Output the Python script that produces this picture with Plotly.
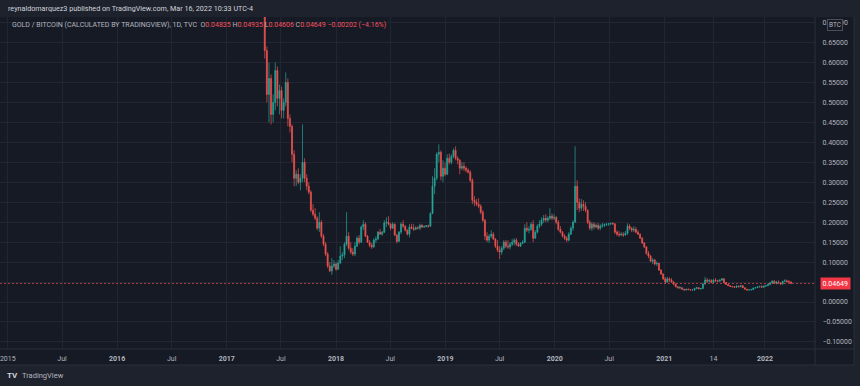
import plotly.graph_objects as go
import pandas as pd

# ---------------- data (GOLD / BITCOIN ratio, weekly candles) ----------------
START_WEEK = "2017-05-08"

open_ = [
    .790, .630, .520, .560, .470, .500, .580, .510, .530, .480,
    .500, .550, .460, .440, .370, .310, .320, .300, .310, .350,
    .310, .290, .275, .230, .220, .210, .185, .200, .165, .145,
    .120, .090, .078, .090, .095, .082, .098, .115, .118, .145,
    .165, .135, .125, .120, .140, .160, .150, .188, .195, .165,
    .150, .142, .138, .155, .158, .175, .170, .175, .198, .200,
    .195, .185, .195, .168, .152, .175, .195, .190, .180, .170,
    .188, .185, .182, .186, .185, .192, .188, .189, .191, .190,
    .222, .290, .310, .370, .375, .315, .335, .320, .360, .350,
    .365, .380, .360, .355, .335, .340, .335, .330, .325, .305,
    .255, .250, .245, .240, .225, .205, .165, .155, .165, .170,
    .158, .140, .130, .125, .135, .150, .140, .138, .145, .150,
    .155, .145, .140, .147, .150, .185, .180, .182, .195, .160,
    .175, .190, .195, .205, .210, .205, .210, .215, .210, .212,
    .200, .182, .175, .165, .160, .155, .170, .185, .200, .290,
    .250, .235, .245, .240, .230, .200, .185, .195, .188, .192,
    .185, .190, .192, .194, .195, .196, .197, .196, .175, .170,
    .168, .170, .168, .172, .190, .185, .180, .182, .175, .170,
    .160, .148, .138, .122, .115, .102, .105, .095, .097, .080,
    .070, .058, .050, .058, .055, .050, .045, .038, .035, .036,
    .032, .030, .032, .031, .030, .0305, .034, .036, .033, .034,
    .045, .055, .052, .054, .049, .055, .053, .052, .055, .058,
    .049, .044, .041, .039, .038, .037, .040, .038, .041, .036,
    .032, .030, .0305, .031, .035, .036, .038, .039, .037, .040,
    .041, .044, .048, .052, .047, .050, .048, .045, .052, .053,
    .051, .050,
]
high = [
    .800, .640, .600, .570, .520, .600, .590, .545, .540, .510,
    .575, .560, .470, .445, .380, .330, .335, .320, .445, .360,
    .320, .300, .280, .245, .235, .215, .225, .205, .170, .150,
    .125, .100, .110, .105, .100, .105, .140, .125, .150, .225,
    .175, .150, .135, .150, .165, .168, .192, .205, .200, .168,
    .155, .148, .160, .165, .178, .183, .178, .205, .212, .215,
    .198, .200, .197, .170, .178, .200, .205, .192, .182, .195,
    .196, .195, .190, .190, .196, .195, .192, .193, .194, .225,
    .315, .335, .375, .395, .380, .355, .350, .370, .372, .370,
    .385, .390, .365, .358, .350, .350, .340, .335, .330, .310,
    .265, .258, .260, .245, .230, .208, .175, .170, .180, .175,
    .160, .155, .140, .140, .155, .155, .155, .150, .158, .160,
    .160, .150, .150, .155, .195, .200, .190, .200, .205, .180,
    .195, .205, .212, .218, .220, .215, .235, .222, .220, .215,
    .205, .190, .178, .170, .165, .175, .190, .205, .390, .305,
    .260, .258, .255, .250, .232, .205, .200, .200, .197, .198,
    .195, .198, .197, .198, .198, .199, .200, .197, .180, .178,
    .175, .175, .178, .197, .195, .188, .190, .188, .180, .172,
    .163, .150, .140, .128, .118, .110, .108, .102, .098, .082,
    .072, .063, .063, .062, .060, .052, .046, .040, .040, .037,
    .033, .033, .034, .032, .031, .036, .038, .037, .035, .048,
    .063, .060, .058, .057, .058, .060, .056, .057, .060, .060,
    .050, .045, .042, .040, .040, .042, .041, .042, .042, .036,
    .033, .031, .033, .036, .038, .040, .041, .042, .041, .043,
    .046, .050, .055, .055, .053, .054, .049, .053, .057, .056,
    .055, .052,
]
low = [
    .610, .500, .450, .445, .450, .480, .490, .470, .460, .460,
    .490, .440, .425, .350, .290, .290, .295, .280, .300, .300,
    .280, .270, .225, .215, .205, .180, .175, .160, .140, .115,
    .085, .075, .068, .085, .078, .080, .095, .105, .110, .140,
    .130, .120, .115, .115, .138, .145, .148, .180, .163, .148,
    .137, .133, .136, .148, .155, .168, .166, .173, .188, .192,
    .180, .183, .165, .147, .150, .170, .185, .177, .167, .162,
    .182, .178, .180, .182, .180, .185, .186, .187, .186, .188,
    .220, .270, .305, .350, .305, .300, .315, .318, .345, .345,
    .360, .355, .345, .320, .330, .328, .325, .322, .300, .245,
    .240, .240, .235, .220, .200, .155, .150, .148, .160, .155,
    .135, .125, .108, .118, .130, .135, .133, .132, .140, .142,
    .140, .138, .138, .145, .148, .175, .172, .178, .150, .158,
    .172, .185, .190, .198, .200, .200, .205, .205, .205, .195,
    .178, .172, .162, .155, .150, .152, .168, .178, .198, .230,
    .225, .228, .228, .225, .195, .180, .178, .182, .185, .180,
    .180, .186, .188, .190, .191, .192, .193, .170, .165, .163,
    .165, .163, .166, .168, .180, .175, .175, .172, .168, .158,
    .145, .135, .118, .110, .100, .095, .092, .090, .078, .068,
    .055, .045, .048, .050, .048, .042, .037, .034, .033, .031,
    .029, .029, .030, .029, .029, .028, .032, .032, .031, .033,
    .043, .048, .049, .047, .048, .051, .050, .051, .053, .047,
    .043, .040, .038, .037, .036, .035, .037, .037, .035, .031,
    .029, .029, .029, .031, .034, .035, .036, .036, .036, .038,
    .040, .042, .046, .045, .044, .046, .043, .044, .050, .049,
    .048, .0461,
]
close = [
    .630, .520, .560, .470, .500, .580, .510, .530, .480, .500,
    .550, .460, .440, .370, .310, .320, .300, .310, .350, .310,
    .290, .275, .230, .220, .210, .185, .200, .165, .145, .120,
    .090, .078, .090, .095, .082, .098, .115, .118, .145, .165,
    .135, .125, .120, .140, .160, .150, .188, .195, .165, .150,
    .142, .138, .155, .158, .175, .170, .175, .198, .200, .195,
    .185, .195, .168, .152, .175, .195, .190, .180, .170, .188,
    .185, .182, .186, .185, .192, .188, .189, .191, .190, .222,
    .290, .310, .370, .375, .315, .335, .320, .360, .350, .365,
    .380, .360, .355, .335, .340, .335, .330, .325, .305, .255,
    .250, .245, .240, .225, .205, .165, .155, .165, .170, .158,
    .140, .130, .125, .135, .150, .140, .138, .145, .150, .155,
    .145, .140, .147, .150, .185, .180, .182, .195, .160, .175,
    .190, .195, .205, .210, .205, .210, .215, .210, .212, .200,
    .182, .175, .165, .160, .155, .170, .185, .200, .290, .250,
    .235, .245, .240, .230, .200, .185, .195, .188, .192, .185,
    .190, .192, .194, .195, .196, .197, .196, .175, .170, .168,
    .170, .168, .172, .190, .185, .180, .182, .175, .170, .160,
    .148, .138, .122, .115, .102, .105, .095, .097, .080, .070,
    .058, .050, .058, .055, .050, .045, .038, .035, .036, .032,
    .030, .032, .031, .030, .0305, .034, .036, .033, .034, .045,
    .055, .052, .054, .049, .055, .053, .052, .055, .058, .049,
    .044, .041, .039, .038, .037, .040, .038, .041, .036, .032,
    .030, .0305, .031, .035, .036, .038, .039, .037, .040, .041,
    .044, .048, .052, .047, .050, .048, .045, .052, .053, .051,
    .050, .04649,
]

# last daily bar shown in the legend line
LAST_O, LAST_H, LAST_L, LAST_C = 0.04835, 0.04935, 0.04606, 0.04649
CHANGE, CHANGE_PCT = -0.00202, -4.16

# time-axis labels (placed where the reference shows them)
tick_dates = ["2015-01-01", "2015-07-01", "2016-01-01", "2016-07-01", "2017-01-01",
              "2017-07-01", "2018-01-01", "2018-07-01", "2019-01-01", "2019-07-01",
              "2020-01-01", "2020-07-01", "2021-01-01", "2021-06-14", "2021-12-03"]
tick_text = ["2015", "Jul", "<b>2016</b>", "Jul", "<b>2017</b>", "Jul", "<b>2018</b>", "Jul",
             "<b>2019</b>", "Jul", "<b>2020</b>", "Jul", "<b>2021</b>", "14", "<b>2022</b>"]

# ---------------- styling ----------------
W, H = 860, 386
ML, MR, MT, MB = 0, 45, 17, 37
PW, PH = W - ML - MR, H - MT - MB
PANE = "#161a25"
FRAME = "#1e222d"
GRID = "#222633"
BORDER = "#2a2e39"
TXT = "#b2b5be"
TXT_HI = "#d1d4dc"
UP = "#26a69a"
DOWN = "#ef5350"
RED_TXT = "#f7525f"
FONT = "Roboto, 'Open Sans', sans-serif"


def fx(p):  # pixel x -> paper
    return (p - ML) / PW


def fy(p):  # pixel y -> paper
    return (H - MB - p) / PH


dates = pd.date_range(START_WEEK, periods=len(close), freq="7D")

fig = go.Figure(go.Candlestick(
    x=dates, open=open_, high=high, low=low, close=close,
    increasing=dict(line=dict(color=UP, width=0.7), fillcolor=UP),
    decreasing=dict(line=dict(color=DOWN, width=0.7), fillcolor=DOWN),
    whiskerwidth=0, hoverinfo="skip",
))

right_edge = fx(854)
bottom_edge = fy(365)

shapes = [
    dict(type="rect", xref="paper", yref="paper", x0=0, x1=right_edge, y0=bottom_edge, y1=1,
         fillcolor=PANE, line=dict(width=0), layer="below"),
    dict(type="line", xref="paper", yref="paper", x0=0, x1=right_edge, y0=0, y1=0,
         line=dict(color=BORDER, width=1)),
    dict(type="line", xref="paper", yref="paper", x0=1, x1=1, y0=bottom_edge, y1=1,
         line=dict(color=BORDER, width=1)),
    dict(type="line", xref="paper", yref="paper", x0=right_edge, x1=right_edge, y0=bottom_edge, y1=1,
         line=dict(color=BORDER, width=1)),
    dict(type="line", xref="paper", yref="paper", x0=0, x1=right_edge, y0=bottom_edge, y1=bottom_edge,
         line=dict(color=BORDER, width=1)),
    dict(type="line", xref="paper", yref="y", x0=0, x1=1, y0=LAST_C, y1=LAST_C,
         line=dict(color="rgba(239,83,80,0.65)", width=1, dash="2px,2px")),
]

legend_txt = (
    f"GOLD / BITCOIN (CALCULATED BY TRADINGVIEW), 1D, TVC  "
    f"O<span style='color:{RED_TXT}'>{LAST_O:.5f}</span> "
    f"H<span style='color:{RED_TXT}'>{LAST_H:.5f}</span> "
    f"L<span style='color:{RED_TXT}'>{LAST_L:.5f}</span> "
    f"C<span style='color:{RED_TXT}'>{LAST_C:.5f}</span> "
    f"<span style='color:{RED_TXT}'>\u2212{abs(CHANGE):.5f} (\u2212{abs(CHANGE_PCT):.2f}%)</span>"
)

annotations = [
    dict(text="reynaldomarquez3 published on TradingView.com, Mar 16, 2022 10:33 UTC-4",
         xref="paper", yref="paper", x=fx(6), y=fy(9), xanchor="left", yanchor="middle",
         showarrow=False, font=dict(size=7.2, color=TXT_HI, family=FONT)),
    dict(text=legend_txt, xref="paper", yref="paper", x=fx(10), y=fy(25), xanchor="left",
         yanchor="middle", showarrow=False, font=dict(size=7, color=TXT, family=FONT)),
    dict(text=f"{LAST_C:.5f}", xref="paper", yref="y", x=1, y=LAST_C, xanchor="left",
         yanchor="middle", xshift=5, showarrow=False, bgcolor="#f23645", borderpad=1.5,
         font=dict(size=7, color="#ffffff", family=FONT)),
    dict(text="BTC", xref="paper", yref="paper", x=fx(835), y=fy(25), xanchor="center",
         yanchor="middle", showarrow=False, bgcolor=PANE, bordercolor="#4a4e59", borderwidth=1,
         borderpad=1, font=dict(size=6.5, color=TXT, family=FONT)),
    dict(text="<b>TV</b>", xref="paper", yref="paper", x=fx(5), y=fy(376), xanchor="left",
         yanchor="middle", showarrow=False, font=dict(size=8, color="#d1d4dc", family=FONT)),
    dict(text="TradingView", xref="paper", yref="paper", x=fx(20), y=fy(376), xanchor="left",
         yanchor="middle", showarrow=False, font=dict(size=7.5, color=TXT, family=FONT)),
]

fig.update_layout(
    width=W, height=H,
    margin=dict(l=ML, r=MR, t=MT, b=MB, pad=0),
    paper_bgcolor=FRAME, plot_bgcolor=PANE,
    showlegend=False,
    font=dict(family=FONT, color=TXT, size=7.5),
    shapes=shapes,
    annotations=annotations,
    xaxis=dict(
        type="date", range=["2014-12-06", "2022-05-19"],
        tickmode="array", tickvals=tick_dates, ticktext=tick_text,
        showgrid=True, gridcolor=GRID, gridwidth=1, zeroline=False, showline=False,
        ticks="outside", ticklen=3, tickcolor="rgba(0,0,0,0)",
        tickfont=dict(size=7, color=TXT, family=FONT),
        rangeslider=dict(visible=False), ticklabeloverflow="allow", fixedrange=True,
    ),
    yaxis=dict(
        side="right", range=[-0.1177, 0.714],
        tick0=0, dtick=0.05, tickformat=".5f",
        showgrid=True, gridcolor=GRID, gridwidth=1, zeroline=False, showline=False,
        ticks="outside", ticklen=5, tickcolor="rgba(0,0,0,0)",
        tickfont=dict(size=7, color=TXT, family=FONT), fixedrange=True,
    ),
)

fig.write_html(
    "out.html",
    config={"displayModeBar": False, "staticPlot": True},
    post_script="document.body.style.margin='0';document.body.style.background='" + FRAME + "';",
)
